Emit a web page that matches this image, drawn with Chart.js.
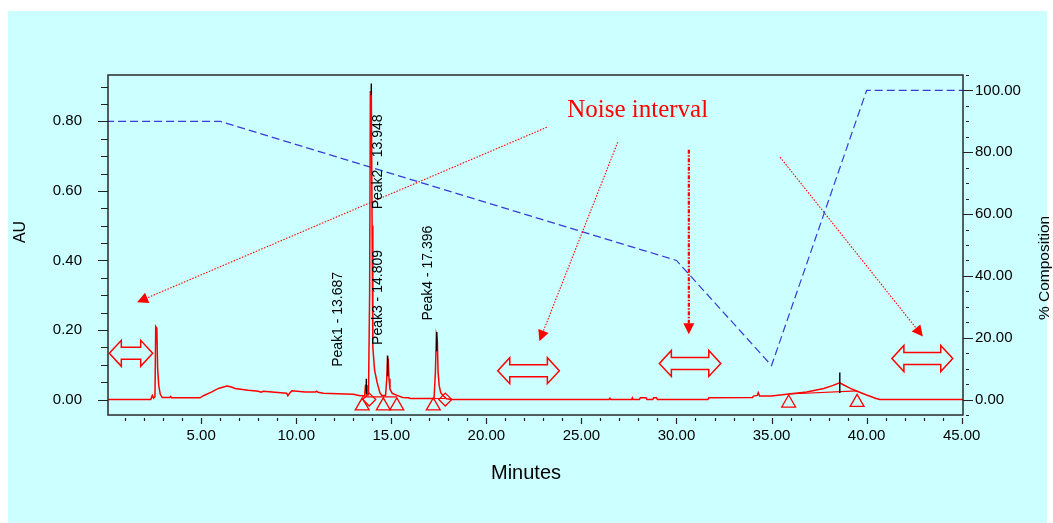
<!DOCTYPE html>
<html><head><meta charset="utf-8">
<script src="https://cdn.jsdelivr.net/npm/chart.js@4.4.1/dist/chart.umd.min.js"></script>
<style>html,body{margin:0;padding:0;background:#fff;overflow:hidden}#wrap{width:1053px;height:523px;position:relative}</style>
</head><body><div id="wrap"><canvas id="c" width="1053" height="523"></canvas></div>
<script>
// ---------- data (minutes, AU, %) ----------
const traceTime = [0.1,2.35,2.43,2.5,2.57,2.61,2.67,2.71,2.77,2.85,2.95,3.35,3.4,3.45,4.94,5.12,5.56,5.91,6.35,6.6,6.78,7.48,8.01,8.15,8.27,8.72,9.5,9.56,9.65,9.77,10.47,11.0,11.08,11.15,11.43,12.57,13.0,13.36,13.6,13.64,13.68,13.72,13.8,13.86,13.9,13.95,13.99,14.03,14.12,14.25,14.4,14.5,14.7,14.76,14.8,14.84,14.88,14.93,15.05,15.3,15.6,15.9,16.0,17.25,17.32,17.37,17.42,17.46,17.52,17.6,17.75,17.9,18.2,26.45,26.5,26.55,27.64,27.68,27.72,28.05,28.1,28.4,28.45,28.75,28.8,28.95,29.0,31.65,31.7,34.0,34.05,34.25,34.3,34.37,35.0,35.9,36.85,37.75,38.2,38.58,38.8,39.15,39.5,40.0,40.5,40.7,45.07];
const traceAU = [0,0,0.012,0.004,0.008,0.21,0.205,0.09,0.04,0.015,0.006,0.006,0.009,0.005,0.005,0.011,0.022,0.032,0.039,0.036,0.032,0.027,0.024,0.021,0.024,0.022,0.018,0.011,0.018,0.025,0.022,0.022,0.024,0.021,0.018,0.016,0.015,0.011,0.012,0.04,0.042,0.015,0.014,0.3,0.885,0.885,0.5,0.15,0.085,0.05,0.02,0.012,0.012,0.06,0.12,0.115,0.06,0.03,0.018,0.012,0.006,0.005,0.003,0.003,0.08,0.185,0.17,0.08,0.04,0.02,0.01,0.002,0,0,0.004,0,0,0.005,0,0,0.005,0.005,0,0,0.005,0.005,0,0,0.005,0.006,0.01,0.012,0.02,0.01,0.01,0.016,0.022,0.032,0.04,0.048,0.042,0.032,0.024,0.013,0.003,0,0];
const compTime = [0, 6, 30, 35, 40, 45.07];
const compPct = [90, 90, 45, 11, 100, 100];
const peakNames = ['Peak1', 'Peak2', 'Peak3', 'Peak4'];
const peakRT = [13.687, 13.948, 14.809, 17.396];
const apexTime = [13.687, 13.948, 14.809, 17.396, 38.59];
const apexTop = [0.06, 0.909, 0.126, 0.194, 0.078];
const apexBottom = [0.015, 0.875, 0.067, 0.139, 0.019];
const dropStart = [13.47, 17.21, 35.9];
const dropStartAU = [0.008, 0.003, 0.016];
const dropEnd = [15.29, 17.84, 39.5];
const dropEndAU = [0.008, 0.003, 0.025];
const triTime = [13.47, 14.58, 15.29, 17.21, 35.9, 39.5];
const triAU = [-0.018, -0.018, -0.018, -0.018, -0.010, -0.008];
const diaTime = [13.84, 17.84];
const diaAU = [0.0, 0.0];
const xTickStep = 5, auTickStep = 0.2, pctTickStep = 20;

// ---------- annotations (in data units) ----------
const peakLabelAt = [[12.39, 0.094], [14.50, 0.547], [14.50, 0.157], [17.13, 0.227]];
const noiseTextAt = [27.96, 0.8125];
const pointerArrows = [ // [t0, au0, t1, au1, heavy]
  [23.18, 0.783, 1.63, 0.280, 0],
  [26.91, 0.740, 22.79, 0.168, 0],
  [30.65, 0.718, 30.65, 0.188, 1],
  [35.45, 0.697, 42.96, 0.181, 0]
];
const intervalArrows = [ // [tStart, tEnd, au]
  [0.17, 2.45, 0.133],
  [20.60, 23.84, 0.083],
  [29.10, 32.33, 0.104],
  [41.33, 44.53, 0.118]
];

const FONT = "'Liberation Sans', Arial, sans-serif";
const RED = '#ff0000';

const xy = (xs, ys) => xs.map((x, i) => ({x: x, y: ys[i]}));
const apexData = [];
apexTime.forEach((t, i) => { apexData.push({x: t, y: apexTop[i]}, {x: t, y: apexBottom[i]}, {x: t, y: null}); });
const dropData = [];
dropStart.forEach((t, i) => { dropData.push({x: t, y: dropStartAU[i]}, {x: dropEnd[i], y: dropEndAU[i]}, {x: dropEnd[i], y: null}); });

const bgPlugin = {
  id: 'bg',
  beforeDraw(chart) {
    const c = chart.ctx;
    c.save();
    c.fillStyle = '#fff';
    c.fillRect(0, 0, chart.width, chart.height);
    c.fillStyle = '#ccffff';
    c.fillRect(8, 11, 1039, 512);
    c.restore();
  }
};

function drawInterval(c, x0, x1, cy) {
  const hl = 12, hh = 13, sh = 6;
  c.beginPath();
  c.moveTo(x0, cy);
  c.lineTo(x0 + hl, cy - hh); c.lineTo(x0 + hl, cy - sh);
  c.lineTo(x1 - hl, cy - sh); c.lineTo(x1 - hl, cy - hh);
  c.lineTo(x1, cy);
  c.lineTo(x1 - hl, cy + hh); c.lineTo(x1 - hl, cy + sh);
  c.lineTo(x0 + hl, cy + sh); c.lineTo(x0 + hl, cy + hh);
  c.closePath();
  c.stroke();
}

const overlay = {
  id: 'overlay',
  afterDraw(chart) {
    const c = chart.ctx, a = chart.chartArea;
    const X = chart.scales.x, Y = chart.scales.y, R = chart.scales.yR;
    c.save();
    // frame
    c.strokeStyle = '#2a2a2a'; c.lineWidth = 1.5;
    c.strokeRect(a.left, a.top, a.right - a.left, a.bottom - a.top);
    // tick marks
    c.lineWidth = 1.2; c.strokeStyle = '#222';
    c.beginPath();
    for (let t = 1; t <= 45; t++) {
      const px = Math.round(X.getPixelForValue(t)) + 0.5;
      const major = t % xTickStep === 0;
      c.moveTo(px, a.bottom + 3); c.lineTo(px, a.bottom + (major ? 9 : 6));
    }
    for (let k = 0; k <= 18; k++) {
      const v = k * 0.05;
      const py = Math.round(Y.getPixelForValue(v)) + 0.5;
      const major = k % 4 === 0;
      c.moveTo(a.left, py); c.lineTo(a.left - (major ? 10 : 7), py);
    }
    for (let v = -5; v <= 105; v += 5) {
      const py = Math.round(R.getPixelForValue(v)) + 0.5;
      const major = v % pctTickStep === 0;
      if (major) { c.moveTo(a.right, py); c.lineTo(a.right + 10, py); }
      else { c.moveTo(a.right + 3, py); c.lineTo(a.right + 6, py); }
    }
    c.stroke();

    // interval double arrows
    c.strokeStyle = RED; c.lineWidth = 1.5;
    intervalArrows.forEach(d => drawInterval(c, X.getPixelForValue(d[0]), X.getPixelForValue(d[1]), Y.getPixelForValue(d[2])));

    // pointer arrows
    pointerArrows.forEach(p => {
      const x0 = X.getPixelForValue(p[0]), y0 = Y.getPixelForValue(p[1]);
      const x1 = X.getPixelForValue(p[2]), y1 = Y.getPixelForValue(p[3]);
      const ang = Math.atan2(y1 - y0, x1 - x0);
      const hl = 11, hw = 5.5;
      const bx = x1 - hl * Math.cos(ang), by = y1 - hl * Math.sin(ang);
      c.strokeStyle = RED; c.fillStyle = RED;
      c.lineWidth = p[4] ? 2.2 : 1.1;
      c.setLineDash(p[4] ? [4, 1.5, 1.5, 1.5] : [1.5, 1.5]);
      c.beginPath(); c.moveTo(x0, y0); c.lineTo(bx, by); c.stroke();
      c.setLineDash([]);
      c.beginPath();
      c.moveTo(x1, y1);
      c.lineTo(bx + hw * Math.sin(ang), by - hw * Math.cos(ang));
      c.lineTo(bx - hw * Math.sin(ang), by + hw * Math.cos(ang));
      c.closePath(); c.fill();
    });

    // peak labels
    c.fillStyle = '#000';
    c.font = '14px ' + FONT;
    c.textAlign = 'left'; c.textBaseline = 'alphabetic';
    peakNames.forEach((n, i) => {
      const lx = X.getPixelForValue(peakLabelAt[i][0]), ly = Y.getPixelForValue(peakLabelAt[i][1]);
      c.save(); c.translate(lx, ly); c.rotate(-Math.PI / 2);
      c.fillText(n + ' - ' + peakRT[i].toFixed(3), 0, 0);
      c.restore();
    });

    // Noise interval text
    c.fillStyle = RED;
    c.font = "25px 'Liberation Serif', 'Times New Roman', serif";
    c.textAlign = 'center';
    c.fillText('Noise interval', X.getPixelForValue(noiseTextAt[0]), Y.getPixelForValue(noiseTextAt[1]));

    // axis titles
    c.fillStyle = '#000';
    c.textBaseline = 'middle';
    c.font = '20px ' + FONT;
    c.fillText('Minutes', 526, 473);
    c.font = '16px ' + FONT;
    c.save(); c.translate(21, 232); c.rotate(-Math.PI / 2); c.fillText('AU', 0, 0); c.restore();
    c.font = '15.5px ' + FONT;
    c.save(); c.translate(1045, 268); c.rotate(-Math.PI / 2); c.fillText('% Composition', 0, 0); c.restore();
    c.restore();
  }
};

const tickFont = {family: FONT, size: 15};
new Chart(document.getElementById('c'), {
  type: 'line',
  data: {
    datasets: [
      {label: 'Split', data: xy(diaTime, diaAU), yAxisID: 'y', showLine: false, pointStyle: 'rectRot', pointRadius: 6.5, pointBorderColor: RED, pointBackgroundColor: 'rgba(0,0,0,0)', pointBorderWidth: 1.3},
      {label: 'Start/End', data: xy(triTime, triAU), yAxisID: 'y', showLine: false, pointStyle: 'triangle', pointRadius: 8, pointBorderColor: RED, pointBackgroundColor: 'rgba(0,0,0,0)', pointBorderWidth: 1.3},
      {label: 'Apex', data: apexData, yAxisID: 'y', borderColor: '#000', borderWidth: 1.4, pointRadius: 0, spanGaps: false},
      {label: 'AU', data: xy(traceTime, traceAU), yAxisID: 'y', borderColor: RED, borderWidth: 1.5, pointRadius: 0, tension: 0},
      {label: 'Baselines', data: dropData, yAxisID: 'y', borderColor: RED, borderWidth: 1.2, pointRadius: 0, spanGaps: false},
      {label: '% Composition', data: xy(compTime, compPct), yAxisID: 'yR', borderColor: '#3a3ad6', borderWidth: 1.2, borderDash: [8, 4], pointRadius: 0, tension: 0}
    ]
  },
  options: {
    responsive: false, animation: false, devicePixelRatio: 1,
    layout: {padding: {left: 0, right: 0, top: 75, bottom: 0}},
    plugins: {legend: {display: false}, tooltip: {enabled: false}, title: {display: false}},
    scales: {
      x: {type: 'linear', position: 'bottom', min: 0.1, max: 45.07,
        ticks: {stepSize: xTickStep, includeBounds: false, autoSkip: false, maxRotation: 0, padding: 12, color: '#000', font: tickFont, callback: v => Number(v).toFixed(2)},
        grid: {display: false, drawTicks: false}, border: {display: false},
        afterFit(s) { s.height = 108; }},
      y: {type: 'linear', position: 'left', min: -0.0444, max: 0.9333,
        ticks: {stepSize: auTickStep, includeBounds: false, padding: 26, color: '#000', font: tickFont, callback: v => Number(v).toFixed(2)},
        grid: {display: false, drawTicks: false}, border: {display: false},
        afterFit(s) { s.width = 108; }},
      yR: {type: 'linear', position: 'right', min: -5, max: 105,
        ticks: {stepSize: pctTickStep, includeBounds: false, padding: 12, color: '#000', font: tickFont, callback: v => Number(v).toFixed(2)},
        grid: {display: false, drawTicks: false}, border: {display: false},
        afterFit(s) { s.width = 90; }}
    }
  },
  plugins: [bgPlugin, overlay]
});
</script></body></html>
